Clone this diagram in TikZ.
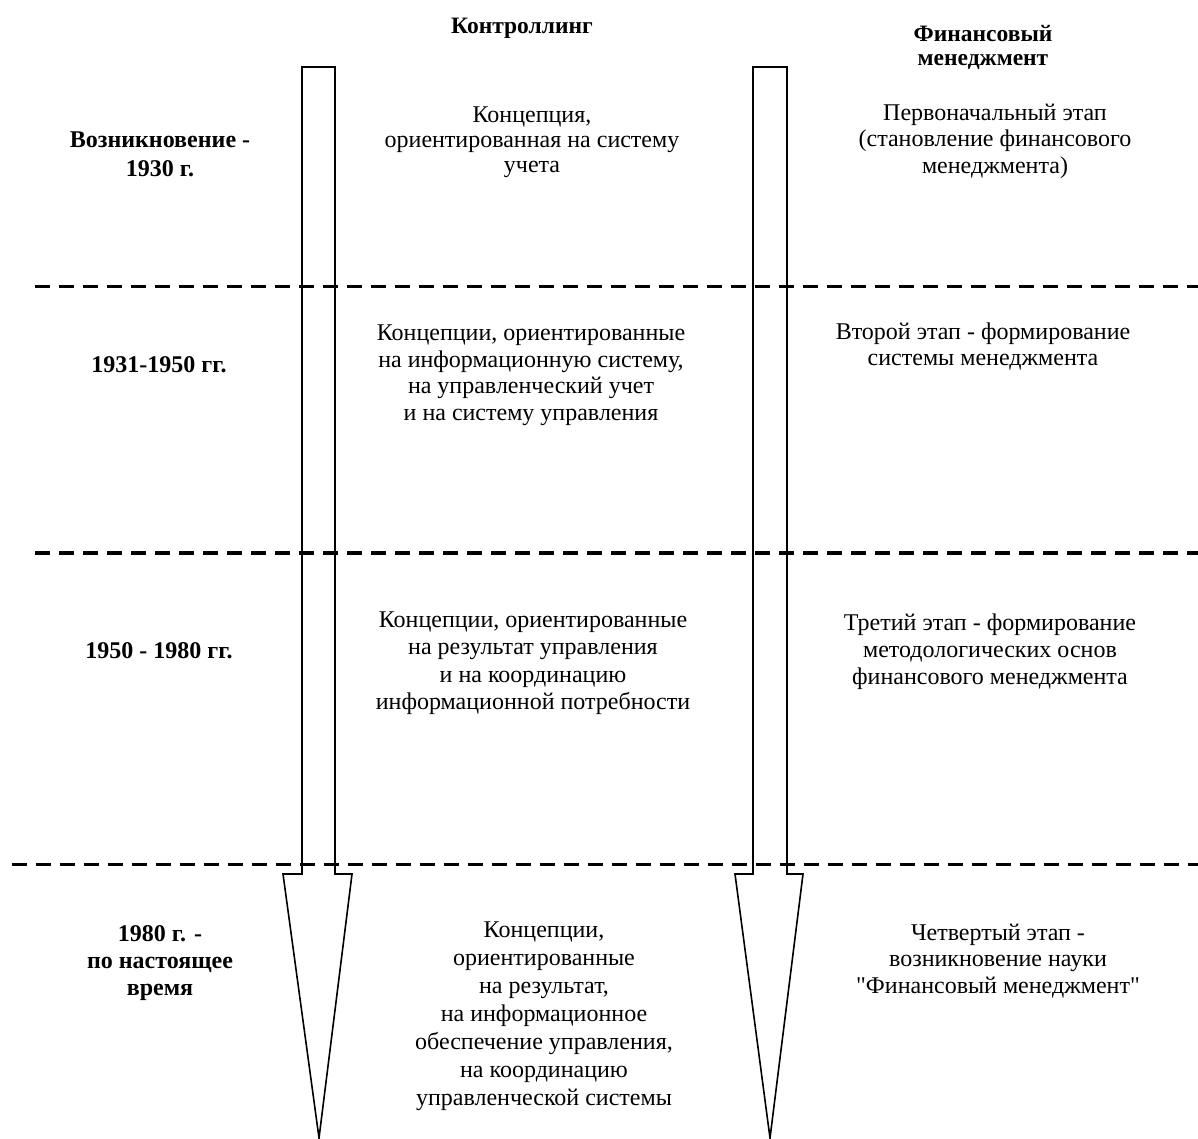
\documentclass[tikz,border=0pt]{standalone}
\usepackage{fontspec}
\setmainfont{Liberation Serif}
\newcommand{\dq}{\XeTeXglyph\XeTeXcharglyph"22\relax}
\tikzset{
  body/.style={align=center, inner sep=0pt, font=\fontsize{24}{#1}\selectfont},
  body/.default=26,
  era/.style={align=center, inner sep=0pt, font=\fontsize{24}{#1}\selectfont\bfseries},
  era/.default=28,
  headtxt/.style={align=center, inner sep=0pt, font=\fontsize{23.5}{24}\selectfont\bfseries},
  sepline/.style={dash pattern=on 15pt off 9pt, line width=#1},
  sepline/.default=3pt,
  arrowshape/.style={draw, line width=1.6pt, line join=miter},
}
\begin{document}
\begin{tikzpicture}[x=1pt,y=-1pt]
\useasboundingbox (0,0) rectangle (1198,1139);
% arrows
\draw[arrowshape] (302,67) -- (335,67) -- (335,874) -- (352,874) -- (319,1138) -- (283,874) -- (302,874) -- cycle;
\draw[arrowshape] (753,67) -- (787,67) -- (787,874) -- (803,874) -- (770,1138) -- (735,874) -- (753,874) -- cycle;
% separators
\coordinate (s1a) at (35,287);  \coordinate (s1b) at (1198,287);
\coordinate (s2a) at (35,553);  \coordinate (s2b) at (1198,553);
\coordinate (s3a) at (12,864);  \coordinate (s3b) at (1198,864);
\draw[sepline] (s1a) -- (s1b);
\draw[sepline=4.5pt] (s2a) -- (s2b);
\draw[sepline] (s3a) -- (s3b);
% headers
\node[headtxt] (h1) at (522,28) {Контроллинг};
\node[headtxt] (h2) at (983,47) {Финансовый\\менеджмент};
% row 1
\node[era=29] (e1) at (160,154) {Возникновение -\\1930 г.};
\node[body=25] (c1) at (532,142) {Концепция,\\ориентированная на систему\\учета};
\node[body=26.5] (f1) at (995,141) {Первоначальный этап\\(становление финансового\\менеджмента)};
% row 2
\node[era] (e2) at (159,365) {1931-1950 гг.};
\node[body=26.5] (c2) at (531,375) {Концепции, ориентированные\\на информационную систему,\\на управленческий учет\\и на систему управления};
\node[body=26] (f2) at (983,346) {Второй этап - формирование\\системы менеджмента};
% row 3
\node[era] (e3) at (159,651) {1950 - 1980 гг.};
\node[body=27.5] (c3) at (533,663) {Концепции, ориентированные\\на результат управления\\и на координацию\\информационной потребности};
\node[body=27] (f3) at (990,652) {Третий этап - формирование\\методологических основ\\финансового менеджмента};
% row 4
\node[era=27] (e4) at (160,963) {1980 г. -\\по настоящее\\время};
\node[body=28] (c4) at (544,1016) {Концепции,\\ориентированные\\на результат,\\на информационное\\обеспечение управления,\\на координацию\\управленческой системы};
\node[body=26.5] (f4) at (998,961) {Четвертый этап -\\возникновение науки\\\dq Финансовый менеджмент\dq};
\end{tikzpicture}
\end{document}
